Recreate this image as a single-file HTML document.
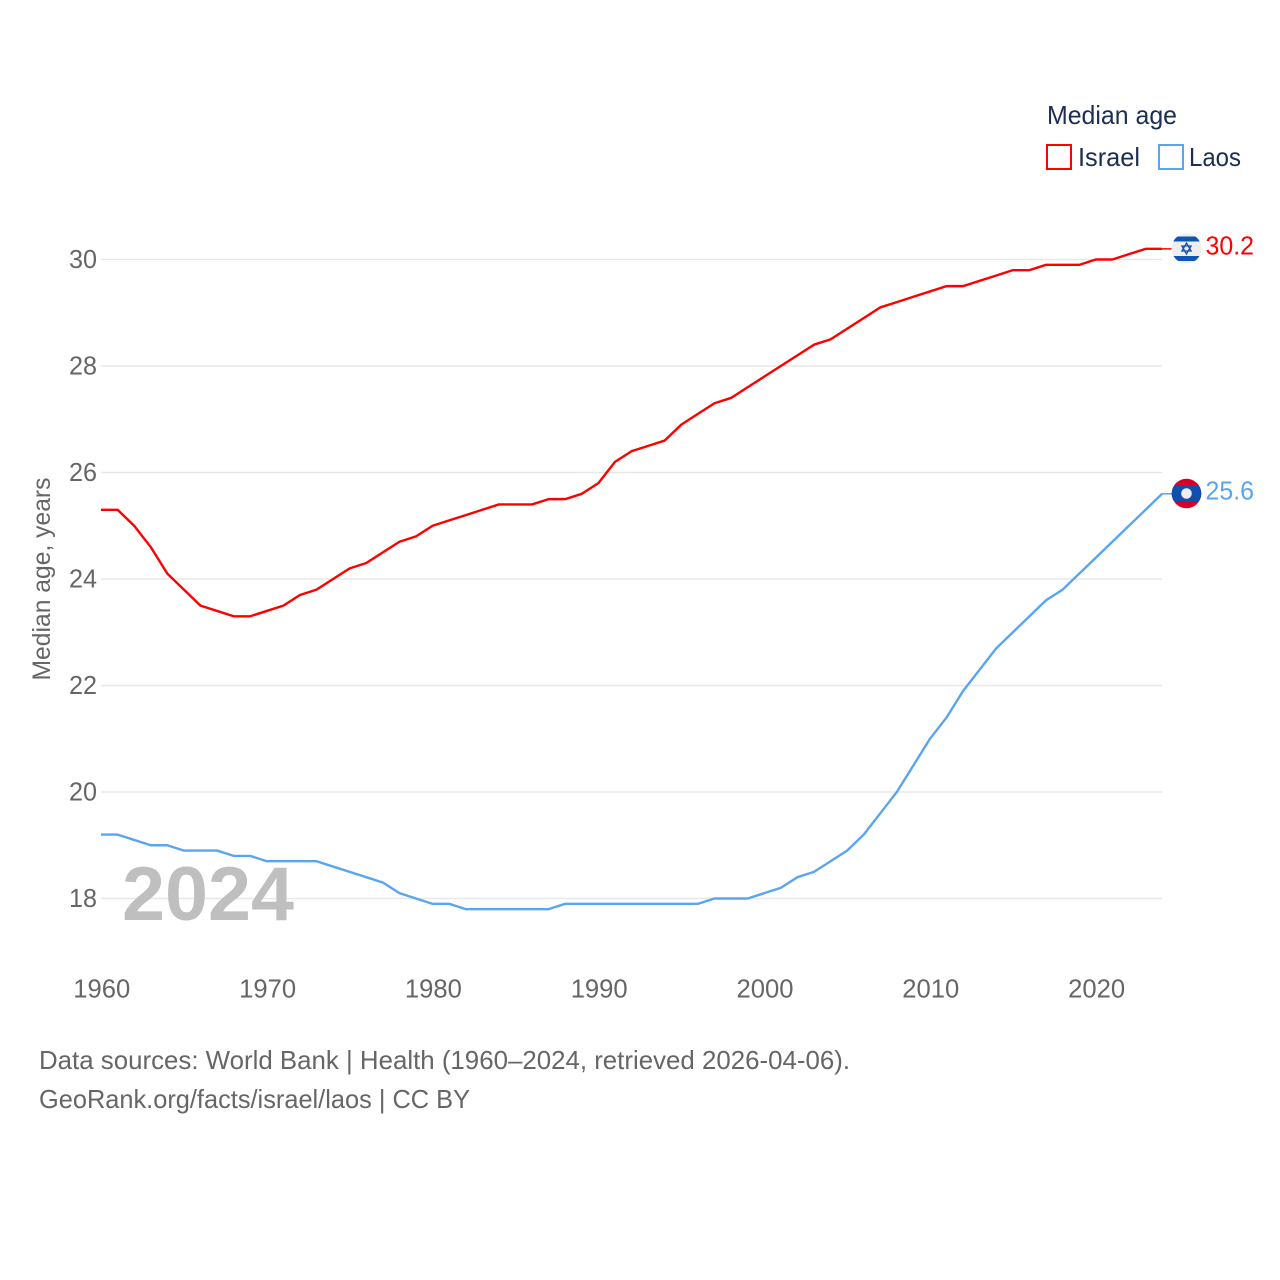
<!DOCTYPE html>
<html lang="en">
<head>
<meta charset="utf-8">
<title>Median age: Israel and Laos</title>
<style>
html,body{margin:0;padding:0;background:#fff;}
svg{display:block;font-family:"Liberation Sans",sans-serif;}
</style>
</head>
<body>
<svg id="chart" xmlns="http://www.w3.org/2000/svg" width="1280" height="1280" viewBox="0 0 1280 1280">
  <rect x="0" y="0" width="1280" height="1280" fill="#fff"/>
  <g id="grid"></g>
  <g id="yticks"></g>
  <g id="xticks"></g>
  <text x="122" y="920" font-size="76" font-weight="700" fill="#bfbfbf" textLength="172" lengthAdjust="spacingAndGlyphs">2024</text>
  <g id="series"></g>
  <text transform="translate(50,579) rotate(-90)" text-anchor="middle" font-size="25" fill="#666" textLength="203" lengthAdjust="spacingAndGlyphs">Median age, years</text>

  <g>
    <text x="1047" y="124" font-size="26" fill="#1b2f52" textLength="130" lengthAdjust="spacingAndGlyphs">Median age</text>
    <g>
      <rect x="1047" y="145" width="24" height="24" fill="#fff" stroke="#ff0000" stroke-width="2"/>
      <text x="1078" y="166" font-size="26" fill="#1b2f52" textLength="62" lengthAdjust="spacingAndGlyphs">Israel</text>
    </g>
    <g>
      <rect x="1159" y="145" width="24" height="24" fill="#fff" stroke="#5aa5ef" stroke-width="2"/>
      <text x="1189" y="166" font-size="26" fill="#1b2f52" textLength="52" lengthAdjust="spacingAndGlyphs">Laos</text>
    </g>
  </g>

  <defs>
    <clipPath id="flag-il"><circle cx="1186.5" cy="248.5" r="15"/></clipPath>
    <clipPath id="flag-la"><circle cx="1186.5" cy="493.5" r="14.8"/></clipPath>
  </defs>
  <g id="flag-israel" clip-path="url(#flag-il)">
    <rect x="1171" y="233" width="31" height="31" fill="#eeeeee"/>
    <rect x="1171" y="236.5" width="31" height="5" fill="#0f56b3"/>
    <rect x="1171" y="256" width="31" height="5" fill="#0f56b3"/>
    <path d="M1186.5 243l4.6 8h-9.2zM1186.5 254l-4.6-8h9.2z" fill="none" stroke="#0f56b3" stroke-width="1.3"/>
  </g>
  <g id="flag-laos" clip-path="url(#flag-la)">
    <rect x="1171" y="478" width="31" height="31" fill="#d80027"/>
    <rect x="1171" y="486" width="31" height="15" fill="#0f4fb0"/>
    <circle cx="1186.5" cy="493.5" r="5.3" fill="#eeeeee"/>
  </g>
  <g id="end-labels"></g>

  <text x="39" y="1069" font-size="26" fill="#666" textLength="811" lengthAdjust="spacingAndGlyphs">Data sources: World Bank | Health (1960–2024, retrieved 2026-04-06).</text>
  <text x="39" y="1108" font-size="26" fill="#666" textLength="431" lengthAdjust="spacingAndGlyphs">GeoRank.org/facts/israel/laos | CC BY</text>
</svg>
<script>
const startYear = 1960;
const yTickValues = [18, 20, 22, 24, 26, 28, 30];
const xTickValues = [1960, 1970, 1980, 1990, 2000, 2010, 2020];
const israelValues = [25.3,25.3,25.0,24.6,24.1,23.8,23.5,23.4,23.3,23.3,23.4,23.5,23.7,23.8,24.0,24.2,24.3,24.5,24.7,24.8,25.0,25.1,25.2,25.3,25.4,25.4,25.4,25.5,25.5,25.6,25.8,26.2,26.4,26.5,26.6,26.9,27.1,27.3,27.4,27.6,27.8,28.0,28.2,28.4,28.5,28.7,28.9,29.1,29.2,29.3,29.4,29.5,29.5,29.6,29.7,29.8,29.8,29.9,29.9,29.9,30.0,30.0,30.1,30.2,30.2];
const laosValues = [19.2,19.2,19.1,19.0,19.0,18.9,18.9,18.9,18.8,18.8,18.7,18.7,18.7,18.7,18.6,18.5,18.4,18.3,18.1,18.0,17.9,17.9,17.8,17.8,17.8,17.8,17.8,17.8,17.9,17.9,17.9,17.9,17.9,17.9,17.9,17.9,17.9,18.0,18.0,18.0,18.1,18.2,18.4,18.5,18.7,18.9,19.2,19.6,20.0,20.5,21.0,21.4,21.9,22.3,22.7,23.0,23.3,23.6,23.8,24.1,24.4,24.7,25.0,25.3,25.6];

const SVG_NS = 'http://www.w3.org/2000/svg';
function xScale(year) { return 101 + (year - 1960) * 16.58; }
function yScale(value) { return 898.5 - (value - 18) * 53.25; }
function make(tag, attrs, parent, text) {
  const el = document.createElementNS(SVG_NS, tag);
  Object.keys(attrs).forEach(function (k) { el.setAttribute(k, attrs[k]); });
  if (text !== undefined) el.textContent = text;
  parent.appendChild(el);
  return el;
}

const gridGroup = document.getElementById('grid');
const yGroup = document.getElementById('yticks');
yTickValues.forEach(function (v) {
  const line = make('line', {x1: 101, x2: 1162, y1: yScale(v), y2: yScale(v), stroke: '#e8e8e8', 'stroke-width': 1.5}, gridGroup);
  
  
  const label = make('text', {x: 97, y: yScale(v) + 8.5, 'text-anchor': 'end', 'font-size': 26, fill: '#666', textLength: 28, lengthAdjust: 'spacingAndGlyphs'}, yGroup, String(v));
  
  
});

const xGroup = document.getElementById('xticks');
xTickValues.forEach(function (y) {
  const label = make('text', {x: xScale(y) + 0.8, y: 997.5, 'text-anchor': 'middle', 'font-size': 26, fill: '#666', textLength: 57, lengthAdjust: 'spacingAndGlyphs'}, xGroup, String(y));
  
  
});

function linePath(values) {
  return values.map(function (v, i) {
    return (i ? 'L' : 'M') + xScale(startYear + i).toFixed(2) + ' ' + yScale(v).toFixed(2);
  }).join(' ');
}
const seriesGroup = document.getElementById('series');
const endGroup = document.getElementById('end-labels');
function drawSeries(name, values, color, labelX) {
  const lastX = xScale(startYear + values.length - 1);
  const lastVal = values[values.length - 1];
  const path = make('path', {d: linePath(values), fill: 'none', stroke: color, 'stroke-width': 2.4, 'stroke-linejoin': 'round'}, seriesGroup);
  
  
  const stub = make('line', {x1: lastX, x2: lastX + 10, y1: yScale(lastVal), y2: yScale(lastVal), stroke: color, 'stroke-width': 1.5}, seriesGroup);
  
  
  const label = make('text', {x: labelX, y: yScale(lastVal) + 5.5, 'font-size': 26, fill: color, textLength: 48.5, lengthAdjust: 'spacingAndGlyphs'}, endGroup, lastVal.toFixed(1));
  
  
}
drawSeries('israel', israelValues, '#ff0000', 1205.5);
drawSeries('laos', laosValues, '#5aa5ef', 1205.5);
</script>
</body>
</html>
